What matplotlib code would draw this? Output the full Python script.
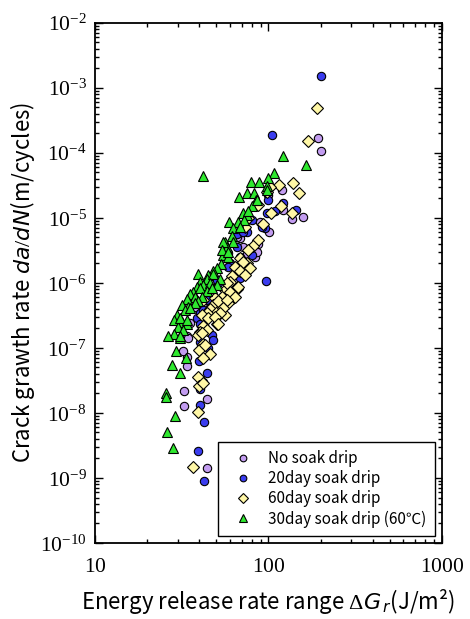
import numpy as np
import matplotlib
matplotlib.use("Agg")
import matplotlib.pyplot as plt
from matplotlib.ticker import LogLocator, FuncFormatter, NullFormatter

# =============================================================================
# DATA
# =============================================================================
no_soak_dG = [193, 202, 159, 136, 119, 99.7, 101, 121, 83.6, 68.5, 71.6, 44.0, 42.1, 35.3,
              34.0, 33.8, 33.8, 32.7, 44.4, 32.7, 44.4, 87.3, 74.9, 58.6, 65.6, 39.4, 37.7,
              34.5, 32.3, 42.1, 85.5, 44.0, 89.3]
no_soak_rate = [1.67e-4, 1.07e-4, 1.04e-5, 9.5e-6, 2.7e-5, 2.25e-5, 6.1e-6, 1.32e-5, 2.5e-6,
                4.9e-6, 3.6e-6, 6.1e-7, 4.9e-7, 2.4e-7, 1.5e-7, 7.3e-8, 5.2e-8, 2.2e-8, 1.66e-8,
                1.27e-8, 1.4e-9, 3.9e-6, 2.75e-6, 2.9e-6, 5.1e-6, 4.9e-7, 4.3e-7, 1.4e-7, 8.8e-8,
                2.1e-7, 3.0e-6, 6.9e-7, 8.7e-6]

soak20_dG = [200, 105, 121, 97.6, 144, 109, 95.4, 74.9, 65.6, 80.1, 60.0, 96.7, 62.7, 51.4,
             48.1, 56.1, 38.6, 47.0, 48.1, 40.3, 40.3, 39.9, 44.0, 42.1, 40.3, 40.3, 42.5, 39.4,
             42.5, 99.7, 80.1, 65.6, 68.5, 71.6, 73.2, 58.6, 68.5, 50.3, 44.0, 53.7, 44.0, 40.3,
             45.0, 42.1, 91.5]
soak20_rate = [1.52e-3, 1.9e-4, 1.7e-5, 1.17e-5, 1.32e-5, 1.29e-5, 6.9e-6, 6.1e-6, 5.6e-6, 2.7e-6,
               2.0e-6, 1.08e-6, 8.7e-7, 9.9e-7, 5.5e-7, 4.9e-7, 2.9e-7, 1.58e-7, 1.33e-7, 1.25e-7,
               2.3e-7, 6.2e-8, 4.1e-8, 3.0e-8, 2.3e-8, 1.33e-8, 7.2e-9, 2.6e-9, 8.9e-10, 1.9e-5,
               9.3e-6, 3.6e-6, 2.5e-6, 6.1e-6, 2.1e-6, 1.78e-6, 1.18e-6, 1.11e-6, 6.9e-7, 6.1e-7,
               5.5e-7, 3.4e-7, 9.9e-8, 3.8e-7, 7.3e-6]

soak60_dG = [190, 169, 115, 139, 150, 87.3, 104, 118, 136, 93.3, 87.3, 81.7, 76.5, 68.5, 64.1,
             74.9, 78.2, 61.4, 60.0, 65.6, 56.1, 53.7, 62.7, 49.2, 48.1, 46.0, 50.3, 44.0, 41.2,
             45.0, 56.1, 50.3, 42.1, 40.3, 42.1, 39.9, 46.0, 39.4, 39.9, 39.4, 36.9, 102, 71.6,
             68.5, 73.2, 57.4, 67.0, 60.0, 64.1, 58.6, 42.1, 51.4, 57.4, 54.9, 52.5, 49.2, 51.4,
             44.0, 39.4, 43.1, 42.1, 41.8, 41.2, 98.4, 76.5, 73.2]
soak60_rate = [4.8e-4, 1.52e-4, 3.2e-5, 3.4e-5, 2.4e-5, 1.58e-5, 1.2e-5, 1.52e-5, 1.2e-5, 8.1e-6,
               4.6e-6, 3.7e-6, 3.2e-6, 2.4e-6, 1.74e-6, 2.0e-6, 1.68e-6, 1.28e-6, 1.04e-6, 8.0e-7,
               7.8e-7, 6.1e-7, 5.8e-7, 5.8e-7, 4.6e-7, 3.9e-7, 3.6e-7, 3.4e-7, 3.2e-7, 2.9e-7,
               3.2e-7, 2.3e-7, 2.2e-7, 1.78e-7, 1.15e-7, 9.3e-8, 8.1e-8, 3.6e-8, 2.6e-8, 1.05e-8,
               1.5e-9, 3.0e-5, 2.1e-6, 1.54e-6, 1.32e-6, 9.9e-7, 8.7e-7, 7.3e-7, 6.1e-7, 4.9e-7,
               5.4e-7, 5.2e-7, 5.5e-7, 4.1e-7, 3.4e-7, 3.0e-7, 2.3e-7, 1.9e-7, 1.58e-7, 1.11e-7,
               6.9e-8, 2.9e-8, 1.7e-7, 2.5e-5, 9.8e-6, 7.2e-6]

hot30_dG = [121, 164, 41.7, 107, 79.0, 88.5, 99.7, 98.4, 75.5, 82.8, 67.9, 84.3, 80.6, 71.6,
            74.9, 59.4, 66.4, 72.3, 62.7, 68.5, 56.1, 61.4, 62.2, 57.4, 54.5, 58.6, 53.0, 50.3,
            48.1, 39.4, 45.0, 44.0, 40.3, 42.1, 38.6, 36.9, 35.3, 37.7, 34.0, 31.6, 34.5, 33.0,
            29.6, 28.5, 31.6, 33.8, 30.2, 32.3, 28.5, 26.5, 30.9, 29.3, 33.5, 27.7, 30.9, 25.7,
            25.7, 28.9, 25.9, 28.3, 85.5, 97.6, 76.5, 54.9, 53.7, 58.6, 48.1, 52.5, 46.0, 50.3,
            40.3, 44.0, 41.2, 39.4, 47.0, 37.7, 35.3, 30.9, 33.8, 30.9]
hot30_rate = [8.9e-5, 6.4e-5, 4.4e-5, 4.9e-5, 3.6e-5, 3.6e-5, 4.1e-5, 3.1e-5, 2.4e-5, 2.4e-5,
              2.1e-5, 1.9e-5, 1.5e-5, 1.2e-5, 1.1e-5, 8.7e-6, 8.7e-6, 9.3e-6, 6.9e-6, 7.3e-6,
              4.2e-6, 5.3e-6, 4.3e-6, 3.6e-6, 2.7e-6, 2.5e-6, 1.95e-6, 1.7e-6, 1.5e-6, 1.37e-6,
              1.3e-6, 1.14e-6, 1.04e-6, 9.3e-7, 8.7e-7, 7.3e-7, 6.8e-7, 6.1e-7, 5.6e-7, 4.6e-7,
              4.3e-7, 3.8e-7, 3.2e-7, 2.7e-7, 2.5e-7, 2.3e-7, 2.1e-7, 1.9e-7, 1.64e-7, 1.5e-7,
              1.4e-7, 8.8e-8, 6.9e-8, 5.5e-8, 4.1e-8, 2.0e-8, 1.75e-8, 9.1e-9, 5.0e-9, 2.9e-9,
              1.87e-5, 2.7e-5, 1.28e-5, 4.3e-6, 3.2e-6, 3.0e-6, 1.37e-6, 1.14e-6, 9.9e-7, 9.3e-7,
              8.3e-7, 7.6e-7, 6.1e-7, 5.2e-7, 8.3e-7, 4.9e-7, 4.1e-7, 2.9e-7, 2.7e-7, 1.5e-7]

series_labels = ["No soak drip", "20day soak drip", "60day soak drip", "30day soak drip (60℃)"]
# =============================================================================

plt.rcParams["font.family"] = ["Noto Sans CJK JP", "DejaVu Sans"]
plt.rcParams["mathtext.fontset"] = "custom"
plt.rcParams["mathtext.rm"] = "Liberation Serif"
plt.rcParams["mathtext.it"] = "DejaVu Sans:italic"

fig = plt.figure(figsize=(4.7, 6.19), dpi=100)
ax = fig.add_axes([0.2021, 0.1228, 0.7383, 0.8405])

edge = dict(markeredgecolor="black", markeredgewidth=0.8, linestyle="none")
ax.plot(no_soak_dG, no_soak_rate, "o", ms=6, markerfacecolor="#c29cf0", label=series_labels[0], **edge)
ax.plot(soak20_dG, soak20_rate, "o", ms=6, markerfacecolor="#3a3cee", label=series_labels[1], **edge)
ax.plot(soak60_dG, soak60_rate, "D", ms=6.3, markerfacecolor="#fff7a6", label=series_labels[2], **edge)
ax.plot(hot30_dG, hot30_rate, "^", ms=7, markerfacecolor="#2ee82e", label=series_labels[3], **edge)

ax.set_xscale("log")
ax.set_yscale("log")
ax.set_xlim(10, 1000)
ax.set_ylim(1e-10, 1e-2)

ax.xaxis.set_major_locator(LogLocator(base=10, numticks=20))
ax.yaxis.set_major_locator(LogLocator(base=10, numticks=20))
ax.xaxis.set_minor_locator(LogLocator(base=10, subs=np.arange(2, 10), numticks=20))
ax.yaxis.set_minor_locator(LogLocator(base=10, subs=np.arange(2, 10), numticks=20))
ax.xaxis.set_major_formatter(FuncFormatter(lambda v, p: r"$\mathrm{%d}$" % round(v)))
ax.yaxis.set_major_formatter(FuncFormatter(lambda v, p: r"$\mathrm{10^{%d}}$" % round(np.log10(v))))
ax.xaxis.set_minor_formatter(NullFormatter())
ax.yaxis.set_minor_formatter(NullFormatter())

ax.tick_params(which="both", direction="in", top=True, right=True, width=1.0, labelsize=15.5)
ax.tick_params(which="major", length=6)
ax.tick_params(which="minor", length=3)
ax.tick_params(axis="x", pad=9)
ax.tick_params(axis="y", pad=6)
for s in ax.spines.values():
    s.set_linewidth(1.3)

ax.set_xlabel(r"Energy release rate range $\mathit{ΔG}_{\,\mathit{r}}$(J/m²)", fontsize=16, labelpad=7)
ax.set_ylabel(r"Crack grawth rate $\mathit{da/dN}$(m/cycles)", fontsize=16, labelpad=2)

leg = ax.legend(loc="lower right", bbox_to_anchor=(0.98, 0.0135), borderaxespad=0, fontsize=11,
                frameon=True, fancybox=False, edgecolor="black", framealpha=1,
                markerscale=0.8, handlelength=2.2, handletextpad=0.55, labelspacing=0.2,
                borderpad=0.55, numpoints=1)
leg.get_frame().set_linewidth(1.0)

fig.savefig("out.png", dpi=100)
